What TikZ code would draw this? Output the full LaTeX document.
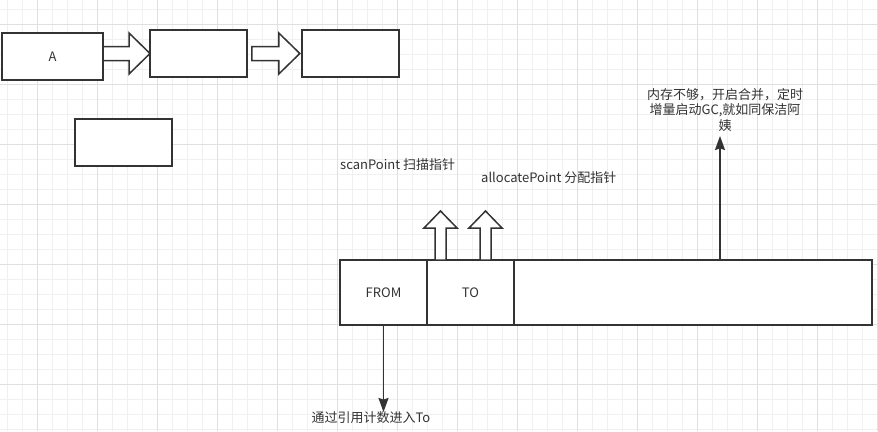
\documentclass[tikz,border=0pt]{standalone}
\usepackage{fontspec}
\setmainfont{Noto Sans CJK SC}
\usepackage{xcolor}
\usepackage{tikz}
\usetikzlibrary{calc,arrows.meta,positioning}
\definecolor{paper}{HTML}{FFFFFF}
\definecolor{ink}{HTML}{333333}
\definecolor{gridminor}{HTML}{F0F0F0}
\definecolor{gridmajor}{HTML}{E0E0E0}
\tikzset{
  box/.style={draw=ink, fill=paper, line width=1.5pt, inner sep=0pt, outer sep=0pt,
    text=ink, font=\fontsize{13}{15.5}\selectfont},
  cell/.style={box, minimum height=65pt},
  blockarr/.style={draw=ink, fill=paper, line width=1.5pt, line join=miter},
  conn/.style={draw=ink, line width=1.5pt, -{Stealth[length=14pt,width=10pt,inset=1.5pt]}},
  lab/.style={text=ink, font=\fontsize{13}{15.5}\selectfont, inner sep=0pt},
  minorline/.style={draw=gridminor, line width=1pt},
  majorline/.style={draw=gridmajor, line width=1pt},
}

\begin{document}
\begin{tikzpicture}[x=1pt,y=-1pt]
  \useasboundingbox (0,0) rectangle (878,431);
  \fill[paper] (0,0) rectangle (878,431);

  % background grid
  \foreach \x in {7,22,...,877}{
    \draw[minorline] (\x,0) -- (\x,431);
  }
  \foreach \y in {9,24,...,429}{
    \draw[minorline] (0,\y) -- (878,\y);
  }
  \foreach \x in {37,97,...,877}{
    \draw[majorline] (\x,0) -- (\x,431);
  }
  \foreach \y in {24,84,...,384}{
    \draw[majorline] (0,\y) -- (878,\y);
  }

  % top row of boxes
  \node[box, minimum width=101pt, minimum height=47pt] (A) at (52.5,56.5) {A};
  \node[box, minimum width=97pt, minimum height=47pt] (B) at (198.5,53.5) {};
  \node[box, minimum width=97pt, minimum height=47pt] (C) at (350.3,53.5) {};
  \node[box, minimum width=97pt, minimum height=47pt] (D) at (123.5,142.5) {};

  \draw[blockarr] ($(B.west)+(-47,-7)$) -- ++(26,0) -- ++(0,-13.5) -- (B.west)
    -- ++(-21,20.5) -- ++(0,-13.5) -- ++(-26,0) -- cycle;
  \draw[blockarr] ($(C.west)+(-50,-7)$) -- ++(27,0) -- ++(0,-13.5) -- ($(C.west)+(-2,0)$)
    -- ++(-21,20.5) -- ++(0,-13.5) -- ++(-27,0) -- cycle;

  % memory bar
  \node[cell, minimum width=87pt] (FROM) at (383.5,292.5) {FROM};
  \node[cell, minimum width=87pt, right=0pt of FROM] (TO) {TO};
  \node[cell, minimum width=358pt, right=0pt of TO] (rest) {};

  % pointers
  \draw[blockarr] ($(TO.north)+(-35.5,0)$) -- ++(0,-32) -- ++(-11,0) -- ($(TO.north)+(-30,-49)$)
    -- ++(16.5,17) -- ++(-11,0) -- ++(0,32) -- cycle;
  \draw[blockarr] ($(TO.north)+(9.5,0)$) -- ++(0,-32) -- ++(-11,0) -- ($(TO.north)+(15,-49)$)
    -- ++(16.5,17) -- ++(-11,0) -- ++(0,32) -- cycle;
  \node[lab, anchor=west] (scanLbl) at (340,165) {scanPoint 扫描指针};
  \node[lab, anchor=west] (allocLbl) at (481,178) {allocatePoint 分配指针};

  % gc note
  \node[lab, align=center] (gcLbl) at (725,110) {内存不够，开启合并，定时\\增量启动GC,就如同保洁阿\\姨};
  \coordinate (gcEnd) at (720,136);
  \draw[conn] (gcEnd |- rest.north) -- (gcEnd);

  % to the To space
  \node[lab] (toLbl) at (371,418) {通过引用计数进入To};
  \coordinate (fromEnd) at ($(FROM.south)+(0,87)$);
  \draw[conn] (FROM.south) -- (fromEnd);
\end{tikzpicture}
\end{document}
